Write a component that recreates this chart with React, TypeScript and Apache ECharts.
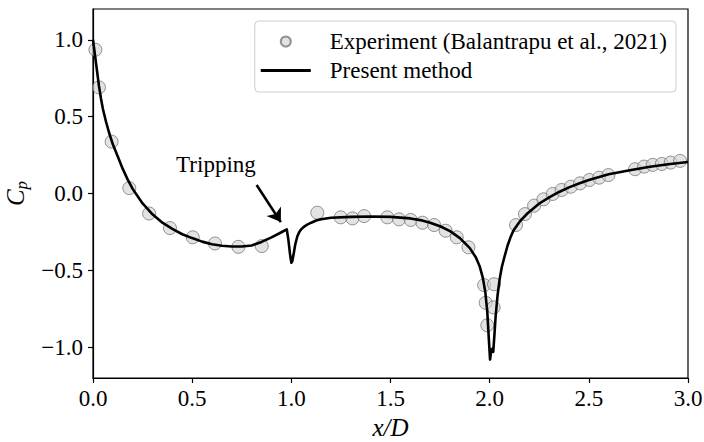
import React, { useEffect, useRef } from "react";
import * as echarts from "echarts";

// Experimental pressure coefficient (Balantrapu et al., 2021)
const expX = [
  0.012, 0.03, 0.094, 0.183, 0.283, 0.388, 0.503, 0.615, 0.733, 0.851,
  1.131, 1.249, 1.308, 1.367, 1.484, 1.543, 1.602, 1.661, 1.72, 1.778,
  1.834, 1.893, 1.972, 2.022, 1.98, 2.02, 1.988, 2.133, 2.178, 2.224,
  2.271, 2.318, 2.363, 2.409, 2.456, 2.503, 2.552, 2.599, 2.733, 2.779,
  2.822, 2.868, 2.913, 2.96,
];
const expCp = [
  0.935, 0.69, 0.337, 0.035, -0.13, -0.225, -0.285, -0.325, -0.347, -0.342,
  -0.125, -0.155, -0.162, -0.147, -0.155, -0.168, -0.172, -0.19, -0.205, -0.242,
  -0.285, -0.35, -0.596, -0.59, -0.711, -0.741, -0.857, -0.205, -0.134, -0.079,
  -0.038, -0.003, 0.023, 0.044, 0.066, 0.088, 0.103, 0.12, 0.158, 0.175,
  0.186, 0.192, 0.201, 0.212,
];

// Present method, Cp along x/D
const curveX = [
  0.0, 0.005, 0.01, 0.02, 0.03, 0.04, 0.05, 0.065, 0.08, 0.1,
  0.125, 0.15, 0.175, 0.2, 0.25, 0.3, 0.35, 0.4, 0.45, 0.5,
  0.55, 0.6, 0.65, 0.7, 0.75, 0.8, 0.85, 0.9, 0.95, 0.977,
  0.985, 0.993, 1.0, 1.005, 1.012, 1.02, 1.03, 1.04, 1.05, 1.065,
  1.08, 1.1, 1.125, 1.15, 1.2, 1.3, 1.4, 1.5, 1.6, 1.65,
  1.7, 1.75, 1.8, 1.85, 1.9, 1.93, 1.95, 1.965, 1.978, 1.988,
  1.996, 2.002, 2.008, 2.013, 2.018, 2.024, 2.03, 2.04, 2.05, 2.061,
  2.075, 2.09, 2.105, 2.12, 2.15, 2.19, 2.25, 2.3, 2.35, 2.4,
  2.45, 2.5, 2.6, 2.7, 2.8, 2.9, 3.0,
];
const curveCp = [
  1.0, 0.95, 0.9, 0.8, 0.7, 0.62, 0.55, 0.47, 0.4, 0.32,
  0.24, 0.16, 0.09, 0.03, -0.065, -0.135, -0.19, -0.23, -0.265, -0.29,
  -0.313, -0.33, -0.34, -0.345, -0.345, -0.338, -0.315, -0.285, -0.252, -0.233,
  -0.3, -0.39, -0.45, -0.44, -0.39, -0.33, -0.28, -0.25, -0.232, -0.215,
  -0.203, -0.19, -0.176, -0.167, -0.158, -0.152, -0.15, -0.152, -0.162, -0.173,
  -0.19, -0.213, -0.245, -0.29, -0.355, -0.415, -0.475, -0.545, -0.64, -0.77,
  -0.95, -1.08, -1.02, -1.01, -1.03, -0.92, -0.8, -0.66, -0.56, -0.48,
  -0.41, -0.34, -0.285, -0.24, -0.185, -0.13, -0.065, -0.025, 0.01, 0.04,
  0.065, 0.088, 0.125, 0.15, 0.172, 0.19, 0.205,
];

const xTicks = [0, 0.5, 1, 1.5, 2, 2.5, 3];
const yTicks = [-1, -0.5, 0, 0.5, 1];

const EXP_NAME = "Experiment (Balantrapu et al., 2021)";
const LINE_NAME = "Present method";

const SERIF = "'Liberation Serif', 'Times New Roman', serif";

const fmt = (v: number) => v.toFixed(1).replace("-", "\u2212");

export default function App() {
  const ref = useRef<HTMLDivElement>(null);

  useEffect(() => {
    if (!ref.current) return;
    const chart = echarts.init(ref.current, null, { renderer: "svg" });

    const expData = expX.map((x, i) => [x, expCp[i]]);
    const curveData = curveX.map((x, i) => [x, curveCp[i]]);

    chart.setOption({
      animation: false,
      backgroundColor: "#fff",
      textStyle: { fontFamily: SERIF, color: "#000" },
      grid: {
        left: 93,
        right: 16,
        top: 9,
        bottom: 64,
        containLabel: false,
        outerBoundsMode: "none",
        show: true,
        borderColor: "#000",
        borderWidth: 1.2,
        backgroundColor: "transparent",
      },
      legend: {
        orient: "vertical",
        right: 28,
        top: 21,
        padding: [9, 9, 10, 6],
        itemWidth: 50,
        itemHeight: 10,
        itemGap: 6,
        borderColor: "#cccccc",
        borderWidth: 1,
        borderRadius: 4,
        backgroundColor: "rgba(255,255,255,0.8)",
        textStyle: {
          fontFamily: SERIF,
          fontSize: 23,
          color: "#000",
          lineHeight: 23,
          padding: [0, 0, 0, 14],
        },
        data: [
          { name: EXP_NAME, icon: "circle" },
          { name: LINE_NAME, icon: "path://M0,0 H50 V3 H0 Z", itemStyle: { color: "#000" } },
        ],
      },
      xAxis: {
        type: "value",
        min: 0,
        max: 3,
        interval: 0.5,
        name: "x/D",
        nameLocation: "middle",
        nameGap: 34,
        nameTextStyle: {
          fontFamily: SERIF,
          fontStyle: "italic",
          fontSize: 25,
          color: "#000",
        },
        axisLine: { show: true, onZero: false, lineStyle: { color: "#000", width: 1.2 } },
        axisTick: {
          show: true,
          inside: false,
          length: 5,
          lineStyle: { color: "#000", width: 1.2 },
          customValues: xTicks,
        },
        axisLabel: {
          show: true,
          margin: 9,
          fontFamily: SERIF,
          fontSize: 23,
          color: "#000",
          formatter: (v: number) => fmt(v),
          customValues: xTicks,
        },
        splitLine: { show: false },
      },
      yAxis: {
        type: "value",
        min: -1.2,
        max: 1.2,
        name: "{c|C}{p|p}",
        nameLocation: "middle",
        nameRotate: 90,
        nameGap: 56,
        nameTextStyle: {
          rich: {
            c: {
              fontFamily: SERIF,
              fontStyle: "italic",
              fontSize: 25,
              color: "#000",
              lineHeight: 30,
            },
            p: {
              fontFamily: SERIF,
              fontStyle: "italic",
              fontSize: 17,
              color: "#000",
              lineHeight: 30,
              padding: [12, 0, 0, 0],
            },
          },
        },
        axisLine: { show: true, onZero: false, lineStyle: { color: "#000", width: 1.2 } },
        axisTick: {
          show: true,
          inside: false,
          length: 5,
          lineStyle: { color: "#000", width: 1.2 },
          customValues: yTicks,
        },
        axisLabel: {
          show: true,
          margin: 10,
          fontFamily: SERIF,
          fontSize: 23,
          color: "#000",
          formatter: (v: number) => fmt(v),
          customValues: yTicks,
        },
        splitLine: { show: false },
      },
      series: [
        {
          name: EXP_NAME,
          type: "scatter",
          data: expData,
          symbol: "circle",
          symbolSize: 13,
          clip: true,
          itemStyle: {
            color: "rgba(211,211,211,0.8)",
            borderColor: "rgba(90,90,90,0.8)",
            borderWidth: 1,
          },
          emphasis: { disabled: true },
          silent: true,
        },
        {
          name: LINE_NAME,
          type: "line",
          data: curveData,
          symbol: "none",
          showSymbol: false,
          smooth: false,
          clip: true,
          lineStyle: { color: "#000", width: 2.6, join: "round" },
          itemStyle: { color: "#000" },
          emphasis: { disabled: true },
          silent: true,
          markLine: {
            silent: true,
            symbol: ["none", "arrow"],
            symbolSize: 13,
            label: { show: false },
            lineStyle: { color: "#000", width: 2.6, type: "solid" },
            emphasis: { disabled: true },
            data: [[{ coord: [0.825, 0.055] }, { coord: [0.947, -0.186] }]],
          },
          markPoint: {
            silent: true,
            symbol: "circle",
            symbolSize: 0,
            label: {
              show: true,
              position: "inside",
              formatter: "Tripping",
              fontFamily: SERIF,
              fontSize: 23,
              color: "#000",
            },
            data: [{ coord: [0.62, 0.187] }],
          },
        },
      ],
    });

    return () => chart.dispose();
  }, []);

  return (
    <div
      ref={ref}
      style={{ position: "fixed", left: 0, top: 0, width: 704, height: 442 }}
    />
  );
}
